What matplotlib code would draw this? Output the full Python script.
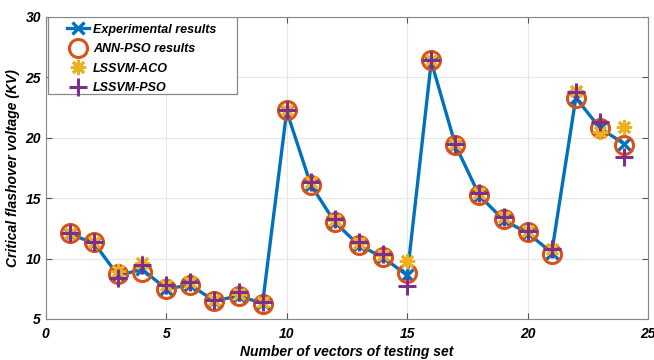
import numpy as np
import matplotlib.pyplot as plt
from matplotlib.patches import Rectangle

plt.rcParams['font.family'] = ['Liberation Sans', 'DejaVu Sans']

# testing vectors
vec = np.arange(1, 25)

exp_res = [12.0, 11.3, 8.6, 9.1, 7.5, 7.8, 6.5, 6.9, 6.3, 22.2, 16.1, 13.0,
           11.1, 10.1, 8.6, 26.3, 19.4, 15.2, 13.2, 12.1, 10.5, 23.3, 20.8, 19.5]
ann_pso = [12.1, 11.4, 8.7, 8.9, 7.5, 7.8, 6.5, 6.9, 6.2, 22.3, 16.1, 13.0,
           11.1, 10.1, 8.8, 26.4, 19.4, 15.3, 13.3, 12.2, 10.4, 23.3, 20.8, 19.4]
lssvm_aco = [12.1, 11.4, 9.0, 9.6, 7.8, 8.1, 6.6, 7.1, 6.4, 22.3, 16.3, 13.2,
             11.3, 10.3, 9.8, 26.4, 19.5, 15.4, 13.4, 12.3, 10.8, 23.9, 20.5, 20.9]
lssvm_pso = [12.1, 11.4, 8.4, 9.5, 7.8, 8.1, 6.6, 7.2, 6.4, 22.3, 16.3, 13.3,
             11.4, 10.4, 7.7, 26.4, 19.5, 15.4, 13.4, 12.3, 10.8, 23.8, 21.3, 18.4]

fig = plt.figure(figsize=(6.54, 3.6), dpi=100)
ax = fig.add_axes([0.070, 0.114, 0.921, 0.839])

ax.plot(vec, exp_res, color='#0072BD', lw=2.4, marker='x', ms=8, mew=2.4,
        label='Experimental results', zorder=3)
ax.plot(vec, ann_pso, ls='none', marker='o', ms=13, mfc='none', mec='#D95319',
        mew=2.2, label='ANN-PSO results', zorder=4)
ax.plot(vec, lssvm_aco, ls='none', marker=(8, 2, 0), ms=11, mec='#EDB120',
        mew=2.0, label='LSSVM-ACO', zorder=4)
ax.plot(vec, lssvm_pso, ls='none', marker='+', ms=13, mec='#7E2F8E',
        mew=2.2, label='LSSVM-PSO', zorder=5)

ax.set_xlim(0, 25)
ax.set_ylim(5, 30)
ax.set_xticks([0, 5, 10, 15, 20, 25])
ax.set_yticks([5, 10, 15, 20, 25, 30])
ax.grid(True, color='#e6e6e6', lw=0.8)
ax.set_axisbelow(True)
ax.tick_params(direction='in', length=4, color='#555555', top=True, right=True,
               labelsize=10)
ax.tick_params(axis='x', pad=6)
for lab in ax.get_xticklabels() + ax.get_yticklabels():
    lab.set_fontweight('bold')
    lab.set_fontstyle('italic')
for s in ax.spines.values():
    s.set_color('#888888')

ax.set_xlabel('Number of vectors of testing set', fontsize=10, fontweight='bold',
              fontstyle='italic', labelpad=3)
ax.set_ylabel('Critical flashover voltage (KV)', fontsize=10, fontweight='bold',
              fontstyle='italic', labelpad=4)

# legend box (MATLAB-like, wider padding than matplotlib's frame)
ax.add_patch(Rectangle((0.003, 0.745), 0.314, 0.255, transform=ax.transAxes,
                       facecolor='white', edgecolor='#888888', lw=0.9, zorder=6))
leg = ax.legend(loc='upper left', bbox_to_anchor=(0.035, 0.978), frameon=False,
                borderpad=0, borderaxespad=0, handlelength=1.8, handletextpad=0.3,
                labelspacing=0.6,
                prop={'weight': 'bold', 'style': 'italic', 'size': 9})
leg.set_zorder(7)

fig.savefig('out.png', dpi=100)
